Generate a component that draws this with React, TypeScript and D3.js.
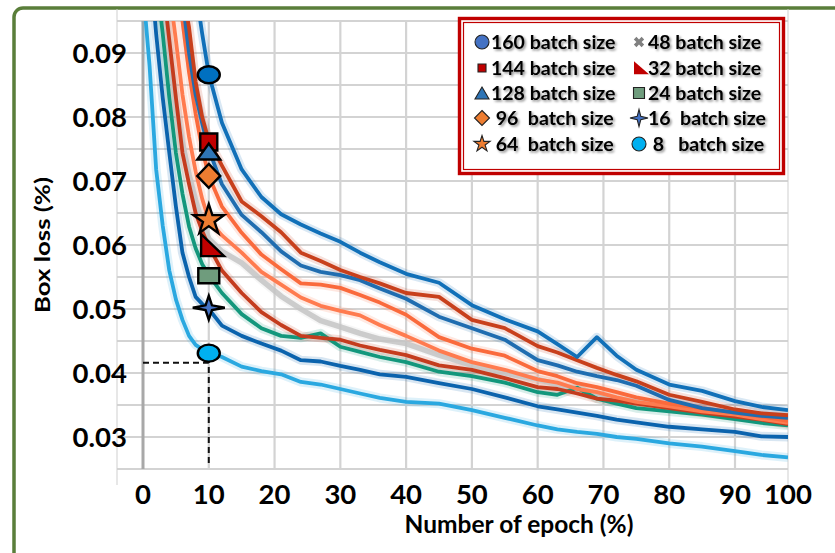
import React, { useRef, useEffect } from 'react';
import * as d3 from 'd3';

const W = 835;
const H = 553;

// epochs sampled for every run
const epochs = [0, 1, 2, 3, 4, 5, 6, 7, 8, 9, 10, 12, 15, 18, 21, 24, 27, 30, 33, 36, 40, 45, 50, 55, 60, 63, 66, 69, 72, 75, 80, 85, 90, 95, 100];

const batch160 = [0.2, 0.18, 0.165, 0.15, 0.138, 0.127, 0.118, 0.109, 0.1, 0.093, 0.0867, 0.0791, 0.0718, 0.0675, 0.0648, 0.0632, 0.0618, 0.0605, 0.0588, 0.0573, 0.0555, 0.0541, 0.0506, 0.0484, 0.0465, 0.0445, 0.0425, 0.0456, 0.0427, 0.0405, 0.0382, 0.0372, 0.0356, 0.0347, 0.0342];
const batch144 = [0.2, 0.175, 0.155, 0.138, 0.123, 0.11, 0.1, 0.094, 0.0855, 0.08, 0.0763, 0.0724, 0.0668, 0.0645, 0.062, 0.0588, 0.0575, 0.0561, 0.055, 0.054, 0.0525, 0.0519, 0.0483, 0.047, 0.0442, 0.0432, 0.042, 0.0408, 0.0397, 0.0387, 0.0366, 0.0355, 0.0343, 0.0337, 0.0334];
const batch128 = [0.19, 0.168, 0.148, 0.132, 0.118, 0.106, 0.0985, 0.09, 0.0835, 0.079, 0.0749, 0.0695, 0.0647, 0.062, 0.059, 0.0568, 0.0558, 0.0553, 0.0545, 0.0532, 0.0516, 0.0488, 0.047, 0.0452, 0.042, 0.0412, 0.0402, 0.0395, 0.0389, 0.038, 0.0358, 0.0345, 0.0338, 0.0333, 0.033];
const batch96 = [0.18, 0.16, 0.14, 0.125, 0.112, 0.102, 0.095, 0.087, 0.0805, 0.075, 0.0708, 0.066, 0.0619, 0.0585, 0.0562, 0.054, 0.0538, 0.0533, 0.0522, 0.051, 0.0491, 0.0456, 0.0438, 0.0427, 0.0403, 0.0395, 0.0384, 0.0378, 0.037, 0.0362, 0.0352, 0.0345, 0.0338, 0.0332, 0.0325];
const batch64 = [0.16, 0.14, 0.123, 0.11, 0.1, 0.092, 0.0835, 0.0769, 0.0715, 0.0672, 0.0639, 0.0615, 0.0588, 0.0558, 0.0538, 0.0518, 0.0505, 0.0497, 0.049, 0.0475, 0.0458, 0.0435, 0.0417, 0.0405, 0.039, 0.0385, 0.0375, 0.037, 0.0362, 0.0355, 0.0348, 0.034, 0.0335, 0.0328, 0.0322];
const batch48 = [0.15, 0.13, 0.115, 0.102, 0.091, 0.082, 0.076, 0.071, 0.067, 0.0635, 0.061, 0.059, 0.0572, 0.0545, 0.052, 0.05, 0.0482, 0.0472, 0.0462, 0.0453, 0.0446, 0.0428, 0.0412, 0.04, 0.039, 0.0382, 0.0375, 0.0368, 0.036, 0.0355, 0.0348, 0.034, 0.0334, 0.0328, 0.0322];
const batch32 = [0.14, 0.125, 0.112, 0.101, 0.092, 0.083, 0.0744, 0.0695, 0.065, 0.0622, 0.0598, 0.056, 0.0525, 0.0495, 0.0475, 0.0458, 0.0455, 0.0452, 0.0443, 0.0436, 0.0428, 0.0412, 0.0405, 0.0392, 0.0378, 0.0375, 0.0368, 0.036, 0.0357, 0.0352, 0.0345, 0.0338, 0.0332, 0.0327, 0.032];
const batch24 = [0.13, 0.115, 0.102, 0.093, 0.083, 0.0744, 0.068, 0.0629, 0.0595, 0.057, 0.0553, 0.0525, 0.0492, 0.047, 0.0458, 0.0455, 0.0462, 0.0441, 0.0433, 0.0425, 0.0417, 0.0402, 0.0395, 0.0385, 0.037, 0.0366, 0.0377, 0.036, 0.0352, 0.0345, 0.034, 0.0335, 0.0328, 0.0322, 0.0318];
const batch16 = [0.12, 0.105, 0.093, 0.083, 0.0744, 0.066, 0.0588, 0.055, 0.0519, 0.0508, 0.05, 0.0474, 0.0458, 0.0446, 0.0435, 0.042, 0.0418, 0.0411, 0.0405, 0.0398, 0.0394, 0.0384, 0.0375, 0.0362, 0.0348, 0.0343, 0.0338, 0.0333, 0.0327, 0.0323, 0.0316, 0.0312, 0.0308, 0.0301, 0.03];
const batch8 = [0.1, 0.088, 0.0718, 0.063, 0.056, 0.0515, 0.0483, 0.0458, 0.0444, 0.0437, 0.0433, 0.0425, 0.041, 0.0403, 0.0398, 0.0386, 0.0382, 0.0375, 0.0368, 0.0361, 0.0355, 0.0352, 0.0342, 0.033, 0.0318, 0.0312, 0.0308, 0.0305, 0.03, 0.0297, 0.029, 0.0285, 0.0278, 0.0272, 0.0268];

// marker values at epoch 10, one per run (null = no marker)
const markerEpoch = 10;
const markerValues = [0.0866, 0.0761, 0.0746, 0.0708, 0.0639, null, 0.0594, 0.0552, 0.0502, 0.0431];

const yTicks = [0.03, 0.04, 0.05, 0.06, 0.07, 0.08, 0.09];
const xTicks = [0, 10, 20, 30, 40, 50, 60, 70, 80, 90, 100];
const guideValue = 0.0416;

const runs = [
  { label: '160 batch size', values: batch160, color: '#1170b8', marker: 'ellipse', fill: '#0070c0', legendFill: '#4472c4' },
  { label: '144 batch size', values: batch144, color: '#c8401c', marker: 'square', fill: '#c00000', legendFill: '#c00000' },
  { label: '128 batch size', values: batch128, color: '#1f6db0', marker: 'triangle', fill: '#2e75b6', legendFill: '#2e75b6' },
  { label: ' 96  batch size', values: batch96, color: '#fa6a3c', marker: 'diamond', fill: '#ed7d31', legendFill: '#ed7d31' },
  { label: ' 64  batch size', values: batch64, color: '#ff7b4f', marker: 'star', fill: '#ed7d31', legendFill: '#ed7d31' },
  { label: '48 batch size', values: batch48, color: '#c4c4c4', marker: 'cross', fill: '#808080', legendFill: '#808080' },
  { label: '32 batch size', values: batch32, color: '#c43c1e', marker: 'rightTriangle', fill: '#c00000', legendFill: '#c00000' },
  { label: '24 batch size', values: batch24, color: '#13977c', marker: 'rect', fill: '#6f9c7d', legendFill: '#6f9c7d' },
  { label: '16  batch size', values: batch16, color: '#0b63ad', marker: 'star4', fill: '#4472c4', legendFill: '#4472c4' },
  { label: ' 8   batch size', values: batch8, color: '#2aa8e0', marker: 'ellipse', fill: '#00b0f0', legendFill: '#00b0f0' }
];

function shapePath(type, w, h) {
  const a = w / 2;
  const b = h / 2;
  switch (type) {
    case 'ellipse':
      return `M${-a},0A${a},${b} 0 1,0 ${a},0A${a},${b} 0 1,0 ${-a},0Z`;
    case 'square':
    case 'rect':
      return `M${-a},${-b}H${a}V${b}H${-a}Z`;
    case 'triangle':
      return `M0,${-b}L${a},${b}L${-a},${b}Z`;
    case 'diamond':
      return `M0,${-b}L${a},0L0,${b}L${-a},0Z`;
    case 'rightTriangle':
      return `M${-w / 3},${(-2 * h) / 3}L${(2 * w) / 3},${h / 3}L${-w / 3},${h / 3}Z`;
    case 'star4': {
      const k = 0.2;
      return `M0,${-b}L${a * k},${-b * k}L${a},0L${a * k},${b * k}L0,${b}L${-a * k},${b * k}L${-a},0L${-a * k},${-b * k}Z`;
    }
    case 'star':
      return d3.symbol(d3.symbolStar, (a * a) / 0.8908)();
    case 'cross':
      return d3.symbol(d3.symbolCross, (w * w) / 1.8)();
    default:
      return '';
  }
}

function App() {
  const svgRef = useRef(null);

  useEffect(() => {
    const svg = d3.select(svgRef.current);
    svg.selectAll('*').remove();

    const font = 'Lato, "Open Sans", sans-serif';
    const plotLeft = 117;
    const plotRight = 788;
    const plotTop = 21;
    const plotBottom = 485;

    const x = d3.scaleLinear().domain([0, 90, 100]).range([143, 735, 788]);
    const y = d3.scaleLinear().domain([0.03, 0.09]).range([437, 53]);

    const defs = svg.append('defs');
    defs.append('clipPath').attr('id', 'plot-clip')
      .append('rect')
      .attr('x', plotLeft).attr('y', plotTop)
      .attr('width', plotRight - plotLeft).attr('height', plotBottom - plotTop);
    const shadow = defs.append('filter').attr('id', 'txt-shadow')
      .attr('x', '-10%').attr('y', '-30%').attr('width', '130%').attr('height', '170%');
    shadow.append('feDropShadow')
      .attr('dx', 1.6).attr('dy', 1.6).attr('stdDeviation', 1)
      .attr('flood-color', '#000').attr('flood-opacity', 0.45);

    svg.append('rect').attr('width', W).attr('height', H).attr('fill', '#fff');

    // Green outer frame
    svg.append('rect')
      .attr('x', 14).attr('y', 8)
      .attr('width', 860).attr('height', 580)
      .attr('rx', 9)
      .attr('fill', 'none')
      .attr('stroke', '#5a7e3a')
      .attr('stroke-width', 3.5);

    // Grid
    const grid = svg.append('g');
    const hLines = d3.range(0.025, 0.0951, 0.005);
    grid.selectAll('.hgrid')
      .data(hLines)
      .enter()
      .append('line')
      .attr('x1', plotLeft).attr('x2', plotRight)
      .attr('y1', d => y(d)).attr('y2', d => y(d))
      .attr('stroke', '#d3d3d3')
      .attr('stroke-width', 2.2);

    grid.selectAll('.vgrid')
      .data(xTicks.slice(1, -1))
      .enter()
      .append('line')
      .attr('x1', d => x(d)).attr('x2', d => x(d))
      .attr('y1', y(0.095)).attr('y2', y(0.025))
      .attr('stroke', '#d3d3d3')
      .attr('stroke-width', 2.2);

    grid.append('line')
      .attr('x1', x(0)).attr('x2', x(0))
      .attr('y1', y(0.095)).attr('y2', y(0.025))
      .attr('stroke', '#a8a8a8')
      .attr('stroke-width', 3);

    grid.append('line')
      .attr('x1', plotLeft).attr('x2', plotLeft)
      .attr('y1', 9).attr('y2', plotBottom)
      .attr('stroke', '#cfcfcf').attr('stroke-width', 1);
    grid.append('line')
      .attr('x1', plotRight).attr('x2', plotRight)
      .attr('y1', 9).attr('y2', plotBottom)
      .attr('stroke', '#cfcfcf').attr('stroke-width', 1);

    // Loss curves
    const line = d3.line()
      .x((d, i) => x(epochs[i]))
      .y(d => y(d))
      .curve(d3.curveLinear);

    const curves = svg.append('g').attr('clip-path', 'url(#plot-clip)');
    const drawOrder = [5, 9, 8, 7, 6, 4, 3, 2, 1, 0];

    drawOrder.forEach(i => {
      curves.append('path')
        .attr('d', line(runs[i].values))
        .attr('fill', 'none')
        .attr('stroke', runs[i].color)
        .attr('stroke-opacity', 0.16)
        .attr('stroke-width', 9)
        .attr('stroke-linejoin', 'round');
    });
    drawOrder.forEach(i => {
      curves.append('path')
        .attr('d', line(runs[i].values))
        .attr('fill', 'none')
        .attr('stroke', runs[i].color)
        .attr('stroke-opacity', i === 5 ? 0.85 : 1)
        .attr('stroke-width', i === 5 ? 5.5 : 3.8)
        .attr('stroke-linejoin', 'round');
    });

    // Dashed guide at epoch 10
    svg.append('path')
      .attr('d', `M${x(0)},${y(guideValue)}H${x(markerEpoch)}V${y(0.0255)}`)
      .attr('fill', 'none')
      .attr('stroke', '#111')
      .attr('stroke-width', 2)
      .attr('stroke-dasharray', '6,4');

    // Markers on the curves
    const markerSize = {
      ellipse: [22, 17], square: [17, 17], triangle: [23, 16], diamond: [23, 24],
      star: [32, 32], rightTriangle: [23, 22], rect: [21, 15], star4: [32, 24]
    };
    runs.forEach((r, i) => {
      const v = markerValues[i];
      if (v == null) return;
      const [w, h] = markerSize[r.marker];
      svg.append('path')
        .attr('d', shapePath(r.marker, w, h))
        .attr('transform', `translate(${x(markerEpoch)},${y(v)})`)
        .attr('fill', r.fill)
        .attr('stroke', '#000')
        .attr('stroke-width', 2.4)
        .attr('stroke-linejoin', 'miter');
    });

    // Axis tick labels
    svg.selectAll('.ytick')
      .data(yTicks)
      .enter()
      .append('text')
      .attr('x', 127)
      .attr('y', d => y(d) + 10)
      .attr('text-anchor', 'end')
      .attr('font-family', font)
      .attr('font-weight', 'bold')
      .attr('font-size', 27.5)
      .attr('fill', '#000')
      .text(d => d.toFixed(2));

    svg.selectAll('.xtick')
      .data(xTicks)
      .enter()
      .append('text')
      .attr('x', d => x(d))
      .attr('y', 504)
      .attr('text-anchor', 'middle')
      .attr('font-family', font)
      .attr('font-weight', 'bold')
      .attr('font-size', 27.5)
      .attr('fill', '#000')
      .text(d => d);

    // Axis titles
    svg.append('text')
      .attr('x', 519)
      .attr('y', 533)
      .attr('text-anchor', 'middle')
      .attr('font-family', font)
      .attr('font-weight', 'bold')
      .attr('font-size', 24.5)
      .attr('fill', '#000')
      .text('Number of epoch (%)');

    svg.append('text')
      .attr('transform', 'translate(50,245) rotate(-90)')
      .attr('text-anchor', 'middle')
      .attr('font-family', font)
      .attr('font-weight', 'bold')
      .attr('font-size', 20)
      .attr('textLength', 136)
      .attr('lengthAdjust', 'spacingAndGlyphs')
      .attr('fill', '#000')
      .text('Box loss (%)');

    // Legend
    const legend = svg.append('g');
    legend.append('rect')
      .attr('x', 459.5).attr('y', 18.5)
      .attr('width', 324).attr('height', 155)
      .attr('fill', '#fff')
      .attr('stroke', '#c00000')
      .attr('stroke-width', 3.4);
    legend.append('rect')
      .attr('x', 463.5).attr('y', 22.5)
      .attr('width', 316).attr('height', 147)
      .attr('fill', 'none')
      .attr('stroke', '#c00000')
      .attr('stroke-width', 1.2);

    const legendSize = {
      ellipse: [14, 14], square: [8, 8], triangle: [14, 12], diamond: [15, 15],
      star: [17, 17], cross: [11, 11], rightTriangle: [15, 13], rect: [11, 11], star4: [18, 17]
    };
    const rowY = [42, 68, 93, 118, 144];
    runs.forEach((r, i) => {
      const col = i < 5 ? 0 : 1;
      const row = i % 5;
      const mx = col === 0 ? 482 : 639;
      const tx = col === 0 ? 491 : 648;
      const [w, h] = legendSize[r.marker];
      const noStroke = r.marker === 'rightTriangle' || r.marker === 'cross';
      legend.append('path')
        .attr('d', shapePath(r.marker, w, h))
        .attr('transform', `translate(${mx},${rowY[row] + (r.marker === 'rightTriangle' ? 2 : 0)})${r.marker === 'cross' ? ' rotate(45)' : ''}`)
        .attr('fill', r.legendFill)
        .attr('stroke', noStroke ? 'none' : '#222')
        .attr('stroke-width', 1.1);
      legend.append('text')
        .attr('x', tx)
        .attr('y', rowY[row] + 7)
        .attr('font-family', font)
        .attr('font-weight', 'bold')
        .attr('font-size', 19.5)
        .attr('fill', '#000')
        .attr('filter', 'url(#txt-shadow)')
        .style('white-space', 'pre')
        .text(r.label);
    });
  }, []);

  return (
    <svg
      ref={svgRef}
      width={W}
      height={H}
      style={{ position: 'absolute', left: 0, top: 0, display: 'block' }}
    />
  );
}

export default App;
